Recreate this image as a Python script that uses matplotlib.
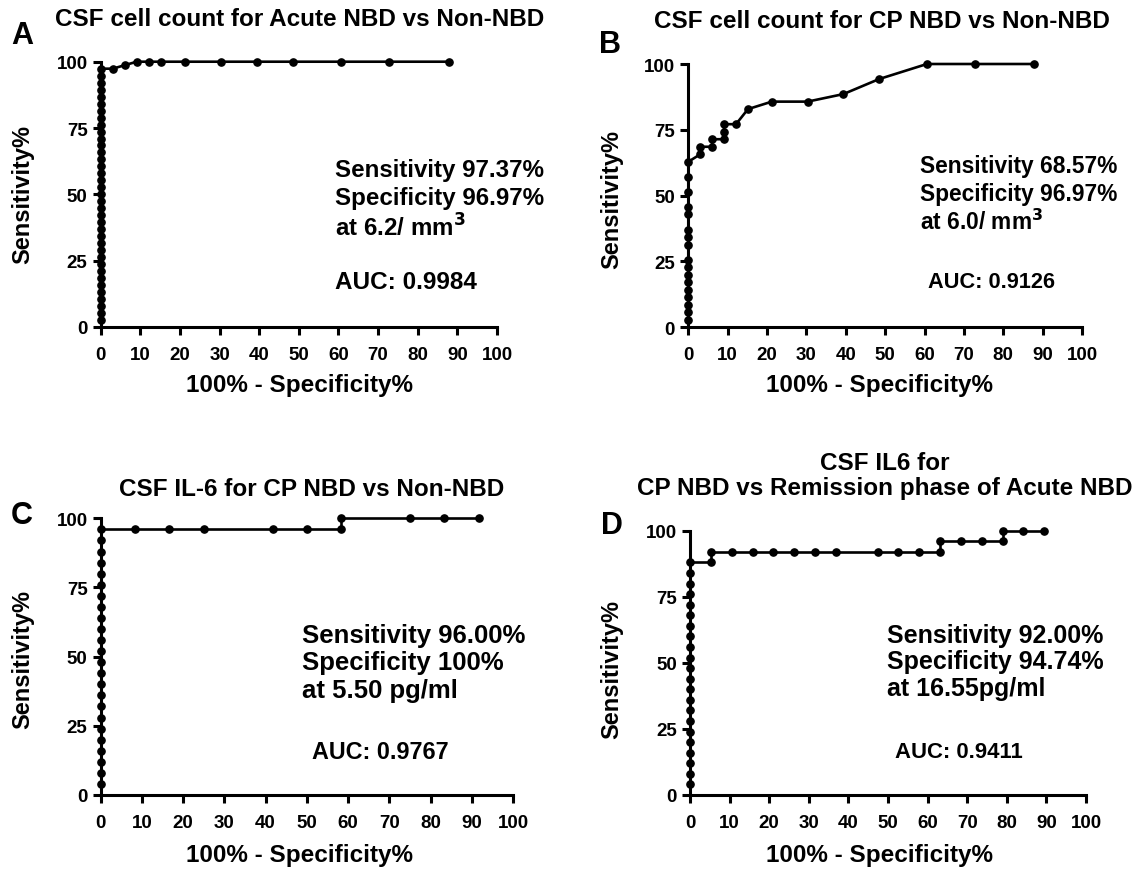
import matplotlib
matplotlib.use("Agg")
from matplotlib import pyplot as plt

plt.rcParams['font.family'] = ['Liberation Sans', 'DejaVu Sans']
plt.rcParams['font.weight'] = 'bold'

W, H = 1142, 870

# panel A: CSF cell count, Acute NBD vs Non-NBD
xa = [0] * 37 + [3.03, 6.06, 9.09, 12.12, 15.15, 21.21, 30.30, 39.39, 48.48, 60.61, 72.73, 87.88]
ya = [2.63, 5.26, 7.89, 10.53, 13.16, 15.79, 18.42, 21.05, 23.68, 26.32, 28.95, 31.58,
      34.21, 36.84, 39.47, 42.11, 44.74, 47.37, 50.00, 52.63, 55.26, 57.89, 60.53, 63.16,
      65.79, 68.42, 71.05, 73.68, 76.32, 78.95, 81.58, 84.21, 86.84, 89.47, 92.11, 94.74,
      97.37,
      97.37, 98.68, 100, 100, 100, 100, 100, 100, 100, 100, 100, 100]

# panel B: CSF cell count, CP NBD vs Non-NBD
xb = [0] * 17 + [3.03, 3.03, 6.06, 6.06, 9.09, 9.09, 9.09, 12.12, 15.15, 21.21, 30.30,
                 39.39, 48.48, 60.61, 72.73, 87.88]
yb = [2.86, 5.71, 8.57, 11.43, 14.29, 17.14, 20.00, 22.86, 25.71, 31.43, 34.29, 37.14,
      42.86, 45.71, 51.43, 57.14, 62.86,
      65.71, 68.57, 68.57, 71.43, 71.43, 74.29, 77.14, 77.14, 82.86, 85.71, 85.71,
      88.57, 94.29, 100, 100, 100]

# panel C: CSF IL-6, CP NBD vs Non-NBD
xc = [0] * 24 + [8.33, 16.67, 25.00, 41.67, 50.00, 58.33, 58.33, 75.00, 83.33, 91.67]
yc = [4, 8, 12, 16, 20, 24, 28, 32, 36, 40, 44, 48, 52, 56, 60, 64, 68, 72, 76, 80,
      84, 88, 92, 96,
      96, 96, 96, 96, 96, 96, 100, 100, 100, 100]

# panel D: CSF IL6, CP NBD vs remission phase of Acute NBD
xd = [0] * 22 + [5.26, 5.26, 10.53, 15.79, 21.05, 26.32, 31.58, 36.84, 47.37, 52.63,
                 57.89, 63.16, 63.16, 68.42, 73.68, 78.95, 78.95, 84.21, 89.47]
yd = [4, 8, 12, 16, 20, 24, 28, 32, 36, 40, 44, 48, 52, 56, 60, 64, 68, 72, 76, 80,
      84, 88,
      88, 92, 92, 92, 92, 92, 92, 92, 92, 92, 92, 92, 96, 96, 96, 96, 100, 100, 100]

fig = plt.figure(figsize=(W / 100, H / 100), dpi=100)


def px(x, y):
    return x / W, 1 - y / H


def make_ax(x0, x1, y100, y0, xs, ys):
    ax = fig.add_axes([x0 / W, 1 - y0 / H, (x1 - x0) / W, (y0 - y100) / H])
    ax.plot(xs, ys, color='black', lw=1.9, marker='o', ms=5.2, clip_on=False, zorder=3)
    ax.set_xlim(0, 100)
    ax.set_ylim(0, 100)
    ax.set_xticks(range(0, 101, 10))
    ax.set_yticks([0, 25, 50, 75, 100])
    for s in ['top', 'right']:
        ax.spines[s].set_visible(False)
    for s in ['left', 'bottom']:
        ax.spines[s].set_linewidth(2.2)
    ax.tick_params(direction='out', length=5.5, width=2.2, labelsize=13.5)
    ax.tick_params(axis='x', pad=8)
    ax.tick_params(axis='y', pad=4)
    for lab in ax.get_xticklabels() + ax.get_yticklabels():
        lab.set_fontweight('bold')
    return ax


make_ax(100.7, 497, 62.7, 328, xa, ya)
make_ax(688.3, 1082, 65, 328.3, xb, yb)
make_ax(100.7, 513, 519.3, 796, xc, yc)
make_ax(690, 1086, 531.7, 796, xd, yd)

# titles
fig.text(*px(300, 19), 'CSF cell count for Acute NBD vs Non-NBD', ha='center', va='center', fontsize=17.5)
fig.text(*px(882, 21), 'CSF cell count for CP NBD vs Non-NBD', ha='center', va='center', fontsize=17.5)
fig.text(*px(312, 490), 'CSF IL-6 for CP NBD vs Non-NBD', ha='center', va='center', fontsize=17.5)
fig.text(*px(885, 476), 'CSF IL6 for\nCP NBD vs Remission phase of Acute NBD', ha='center', va='center',
         fontsize=17.5, linespacing=1.15)

# panel letters
for lbl, x, y in [('A', 22, 36), ('B', 610, 45), ('C', 22, 516), ('D', 612, 526)]:
    fig.text(*px(x, y), lbl, ha='center', va='center', fontsize=22)

# axis labels
for x, y in [(300, 386), (880, 386), (300, 856), (880, 856)]:
    fig.text(*px(x, y), '100% - Specificity%', ha='center', va='center', fontsize=17.5)
for x, y in [(23, 195), (612, 200), (23, 660), (612, 670)]:
    fig.text(*px(x, y), 'Sensitivity%', ha='center', va='center', rotation=90, fontsize=17)

# annotations
notes = [
    (335, [170, 199, 228], 17.4, ['Sensitivity 97.37%', 'Specificity 96.97%', 'at 6.2/ mm$^\\mathbf{3}$']),
    (920, [167, 194, 222], 16.4, ['Sensitivity 68.57%', 'Specificity 96.97%', 'at 6.0/ mm$^\\mathbf{3}$']),
    (302, [636, 663, 691], 18.5, ['Sensitivity 96.00%', 'Specificity 100%', 'at 5.50 pg/ml']),
    (887, [636, 662, 689], 18, ['Sensitivity 92.00%', 'Specificity 94.74%', 'at 16.55pg/ml']),
]
for x, ys, fs, texts in notes:
    for y, t in zip(ys, texts):
        fig.text(*px(x, y), t, ha='left', va='center', fontsize=fs)

fig.text(*px(335, 283), 'AUC: 0.9984', ha='left', va='center', fontsize=17.5)
fig.text(*px(928, 283), 'AUC: 0.9126', ha='left', va='center', fontsize=15.7)
fig.text(*px(312, 753), 'AUC: 0.9767', ha='left', va='center', fontsize=16.8)
fig.text(*px(895, 753), 'AUC: 0.9411', ha='left', va='center', fontsize=15.9)

fig.savefig('out.png', dpi=100)
